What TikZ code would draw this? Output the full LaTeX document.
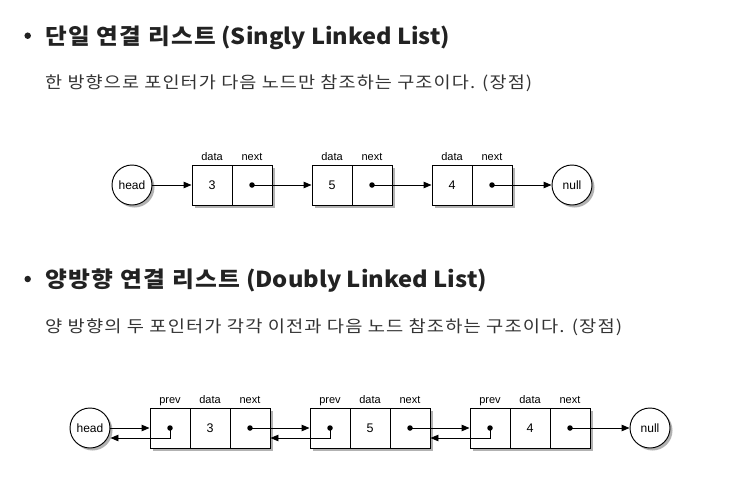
\documentclass[tikz,border=0pt]{standalone}
\usepackage{fontspec}
\usepackage{graphicx}
\newfontfamily\kr{Noto Sans CJK KR}
\newfontfamily\krs[LetterSpace=6]{Noto Sans CJK KR}
\newfontfamily\arial{Liberation Sans}
\usetikzlibrary{arrows.meta,shadows}
\definecolor{titlecol}{HTML}{222222}
\definecolor{subcol}{HTML}{333333}
\newcommand{\fitw}[2]{\resizebox{#1}{\height}{#2}}
\begin{document}
\begin{tikzpicture}[x=1pt,y=-1pt,
  cell/.style={draw, fill=white, minimum width=40pt, minimum height=40pt, inner sep=0pt, line width=0.95pt,
    font=\arial\fontsize{12.5}{14}\selectfont,
    drop shadow={shadow xshift=2.5pt,shadow yshift=-2.5pt,fill=black!30,opacity=1}},
  ptr/.style={circle, fill=black, inner sep=0pt, minimum size=5.5pt},
  lbl/.style={font=\arial\fontsize{11}{13}\selectfont, inner sep=0pt, anchor=base},
  term/.style={circle, draw, fill=white, minimum size=40pt, inner sep=0pt, line width=0.95pt,
    font=\arial\fontsize{12}{13}\selectfont,
    drop shadow={shadow xshift=2.5pt,shadow yshift=-2.5pt,fill=black!30,opacity=1}},
  arr/.style={-{Triangle[length=8pt,width=6.5pt]}, line width=0.95pt},
  title/.style={font=\kr\bfseries\fontsize{22}{26}\selectfont, text=titlecol, anchor=base west, inner sep=0pt},
  sub/.style={font=\krs\fontsize{16.5}{19}\selectfont, text=subcol, anchor=base west, inner sep=0pt},
  bullet/.style={circle, fill=titlecol, minimum size=6.5pt, inner sep=0pt}]
\useasboundingbox[fill=white] (0,0) rectangle (753,488);

% ---------- headings ----------
\node[bullet] (bu1) at (27.7,35.7) {};
\node[title] (t1) at (45,44) {\fitw{405pt}{{\krs\bfseries 단일 연결 리스트} (Singly Linked List)}};
\node[sub] (s1) at (45,88) {\fitw{487pt}{한 방향으로 포인터가 다음 노드만 참조하는 구조이다. (장점)}};
\node[bullet] (bu2) at (27.7,279) {};
\node[title] (t2) at (45,287) {\fitw{442pt}{{\krs\bfseries 양방향 연결 리스트} (Doubly Linked List)}};
\node[sub] (s2) at (45,332) {\fitw{577pt}{양 방향의 두 포인터가 각각 이전과 다음 노드 참조하는 구조이다. (장점)}};

% ---------- singly linked list ----------
\node[term] (h1) at (132,185) {head};
\node[cell] (a1) at (212,185) {3};
\node[cell] (a1n) at (252,185) {};
\node[ptr] (a1p) at (a1n.center) {};
\node[cell] (a2) at (332,185) {5};
\node[cell] (a2n) at (372,185) {};
\node[ptr] (a2p) at (a2n.center) {};
\node[cell] (a3) at (452,185) {4};
\node[cell] (a3n) at (492,185) {};
\node[ptr] (a3p) at (a3n.center) {};
\node[term] (z1) at (572,185) {null};
\foreach \x/\n in {212/1,332/2,452/3}{
  \node[lbl] (ld\n) at (\x,160) {data};
  \node[lbl] (ln\n) at (\x+40,160) {next};
}
\draw[arr] (h1) -- (a1.west);
\draw[arr] (a1p.center) -- (a2.west);
\draw[arr] (a2p.center) -- (a3.west);
\draw[arr] (a3p.center) -- (z1);

% ---------- doubly linked list ----------
\node[term] (h2) at (90,428) {head};
\node[cell] (b1p) at (170,428) {};
\node[cell] (b1d) at (210,428) {3};
\node[cell] (b1n) at (250,428) {};
\node[cell] (b2p) at (330,428) {};
\node[cell] (b2d) at (370,428) {5};
\node[cell] (b2n) at (410,428) {};
\node[cell] (b3p) at (490,428) {};
\node[cell] (b3d) at (530,428) {4};
\node[cell] (b3n) at (570,428) {};
\foreach \n in {1,2,3}{
  \node[ptr] (b\n pd) at (b\n p.center) {};
  \node[ptr] (b\n nd) at (b\n n.center) {};
}
\node[term] (z2) at (650,428) {null};
\foreach \x/\n in {170/1,330/2,490/3}{
  \node[lbl] (mp\n) at (\x,403) {prev};
  \node[lbl] (md\n) at (\x+40,403) {data};
  \node[lbl] (mn\n) at (\x+80,403) {next};
}
\draw[arr] (h2) -- (b1p.west);
\draw[arr] (b1pd.center) |- ([yshift=-10pt]h2.east);
\draw[arr] (b1nd.center) -- (b2p.west);
\draw[arr] (b2pd.center) |- ([yshift=-10pt]b1n.east);
\draw[arr] (b2nd.center) -- (b3p.west);
\draw[arr] (b3pd.center) |- ([yshift=-10pt]b2n.east);
\draw[arr] (b3nd.center) -- (z2);
\end{tikzpicture}
\end{document}
